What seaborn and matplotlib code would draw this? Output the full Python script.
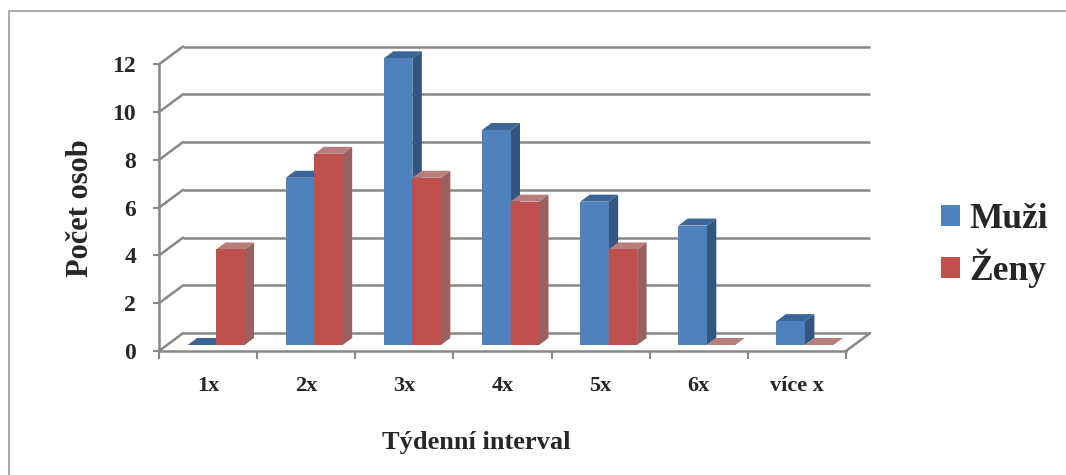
import matplotlib
matplotlib.use("Agg")
import matplotlib.pyplot as plt
import matplotlib.transforms as mtransforms
from matplotlib.patches import Polygon
from matplotlib.lines import Line2D
import seaborn as sns
import pandas as pd

# ---- data ----
categories = ["1x", "2x", "3x", "4x", "5x", "6x", "více x"]
muzi = [0, 7, 12, 9, 6, 5, 1]
zeny = [4, 8, 7, 6, 4, 0, 0]
series_names = ["Muži", "Ženy"]
y_ticks = [0, 2, 4, 6, 8, 10, 12]
x_label = "Týdenní interval"
y_label = "Počet osob"

front_colors = ["#4F81BD", "#C0504D"]
side_colors = ["#33567F", "#98605E"]
top_colors = ["#3B6596", "#B87E7C"]
grid_color = "#878787"

df = pd.DataFrame({
    "interval": categories * 2,
    "count": muzi + zeny,
    "pohlavi": [series_names[0]] * len(categories) + [series_names[1]] * len(categories),
})

sns.set_theme(style="white")
plt.rcParams["font.family"] = ["Liberation Serif", "DejaVu Serif"]
plt.rcParams["font.weight"] = "bold"

W, H = 1066, 475
fig = plt.figure(figsize=(W / 100, H / 100), dpi=100)
ax_left, ax_right, ax_bottom, ax_top = 159, 846, 351, 64.3
ax = fig.add_axes([ax_left / W, 1 - ax_bottom / H,
                   (ax_right - ax_left) / W, (ax_bottom - ax_top) / H])

sns.barplot(data=df, x="interval", y="count", hue="pohlavi", order=categories,
            hue_order=series_names, palette=front_colors, saturation=1,
            width=0.58, ax=ax, linewidth=0, edgecolor="none")

ncat = len(categories)
ax.set_xlim(-0.5, ncat - 0.5)
ax.set_ylim(0, y_ticks[-1])

px_x = (ax_right - ax_left) / ncat
px_y = (ax_bottom - ax_top) / y_ticks[-1]

# depth offsets (pixels -> data units)
bar_dx, bar_dy = 9.5 / px_x, 7.0 / px_y
wall_dx, wall_dy = 24.0 / px_x, 17.8 / px_y
shift = mtransforms.ScaledTranslation(8 / 100, 6 / 100, fig.dpi_scale_trans)
tr = ax.transData + shift

# 3D faces for bars
bars = [p for p in ax.patches if p.get_width() > 0]
for p in bars:
    x, y = p.get_x(), p.get_y()
    w, h = p.get_width(), p.get_height()
    cx = x + w / 2
    cat = int(round(cx))
    hue = 0 if cx < cat else 1
    z = 3 + 2 * cat + hue
    p.set_transform(tr)
    p.set_zorder(z + 0.2)
    p.set_clip_on(False)
    side = Polygon([(x + w, y), (x + w + bar_dx, y + bar_dy),
                    (x + w + bar_dx, y + h + bar_dy), (x + w, y + h)],
                   closed=True, facecolor=side_colors[hue], edgecolor="none",
                   transform=tr, zorder=z, clip_on=False)
    top = Polygon([(x, y + h), (x + bar_dx, y + h + bar_dy),
                   (x + w + bar_dx, y + h + bar_dy), (x + w, y + h)],
                  closed=True, facecolor=top_colors[hue], edgecolor="none",
                  transform=tr, zorder=z + 0.1, clip_on=False)
    ax.add_patch(side)
    ax.add_patch(top)

# back wall gridlines and side wall diagonals
x0, x1 = -0.5, ncat - 0.5
for k in y_ticks:
    ax.plot([x0 + wall_dx, x1 + wall_dx], [k + wall_dy, k + wall_dy],
            color=grid_color, lw=1.8, zorder=1, clip_on=False, solid_capstyle="butt")
    ax.plot([x0, x0 + wall_dx], [k, k + wall_dy],
            color=grid_color, lw=1.8, zorder=1, clip_on=False)
ax.plot([x1, x1 + wall_dx], [0, wall_dy], color=grid_color, lw=1.8,
        zorder=1, clip_on=False)

# spines / ticks
for s in ["top", "right"]:
    ax.spines[s].set_visible(False)
for s in ["left", "bottom"]:
    ax.spines[s].set_color(grid_color)
    ax.spines[s].set_linewidth(1.8)

ax.set_yticks(y_ticks)
ax.set_yticklabels([str(v) for v in y_ticks], fontsize=17, fontweight="bold")
ax.tick_params(axis="y", direction="out", length=4.5, width=1.5,
               color=grid_color, pad=12, left=True)
ax.set_xticks(range(ncat))
ax.set_xticklabels(categories, fontsize=16, fontweight="bold")
ax.set_xticks([i - 0.5 for i in range(ncat + 1)], minor=True)
ax.tick_params(axis="x", which="major", length=0, pad=18)
ax.tick_params(axis="x", which="minor", direction="out", length=5.5,
               width=1.5, color=grid_color, bottom=True)

ax.set_xlabel(x_label, fontsize=19, fontweight="bold")
ax.set_ylabel(y_label, fontsize=22, fontweight="bold")
ax.xaxis.label.set_va("center")
ax.yaxis.label.set_va("center")
ax.xaxis.set_label_coords((476 - ax_left) / (ax_right - ax_left),
                          (ax_bottom - 443) / (ax_bottom - ax_top))
ax.yaxis.set_label_coords((80 - ax_left) / (ax_right - ax_left),
                          (ax_bottom - 208) / (ax_bottom - ax_top))
ax.grid(False)

# legend
sns.move_legend(ax, loc="center left", bbox_to_anchor=(941 / W, 1 - 245.5 / H),
                bbox_transform=fig.transFigure, frameon=False, title=None,
                prop={"size": 25.5, "weight": "bold"}, handlelength=0.55,
                handleheight=0.55, handletextpad=0.25, labelspacing=0.35,
                borderpad=0, borderaxespad=0)

# outer chart border (top and left edges visible)
fig.add_artist(Line2D([9 / W, 1], [1 - 11 / H, 1 - 11 / H],
                      transform=fig.transFigure, color="#9a9a9a", lw=1.2))
fig.add_artist(Line2D([9 / W, 9 / W], [1 - 11 / H, 0],
                      transform=fig.transFigure, color="#9a9a9a", lw=1.2))

fig.savefig("out.png", dpi=100)
